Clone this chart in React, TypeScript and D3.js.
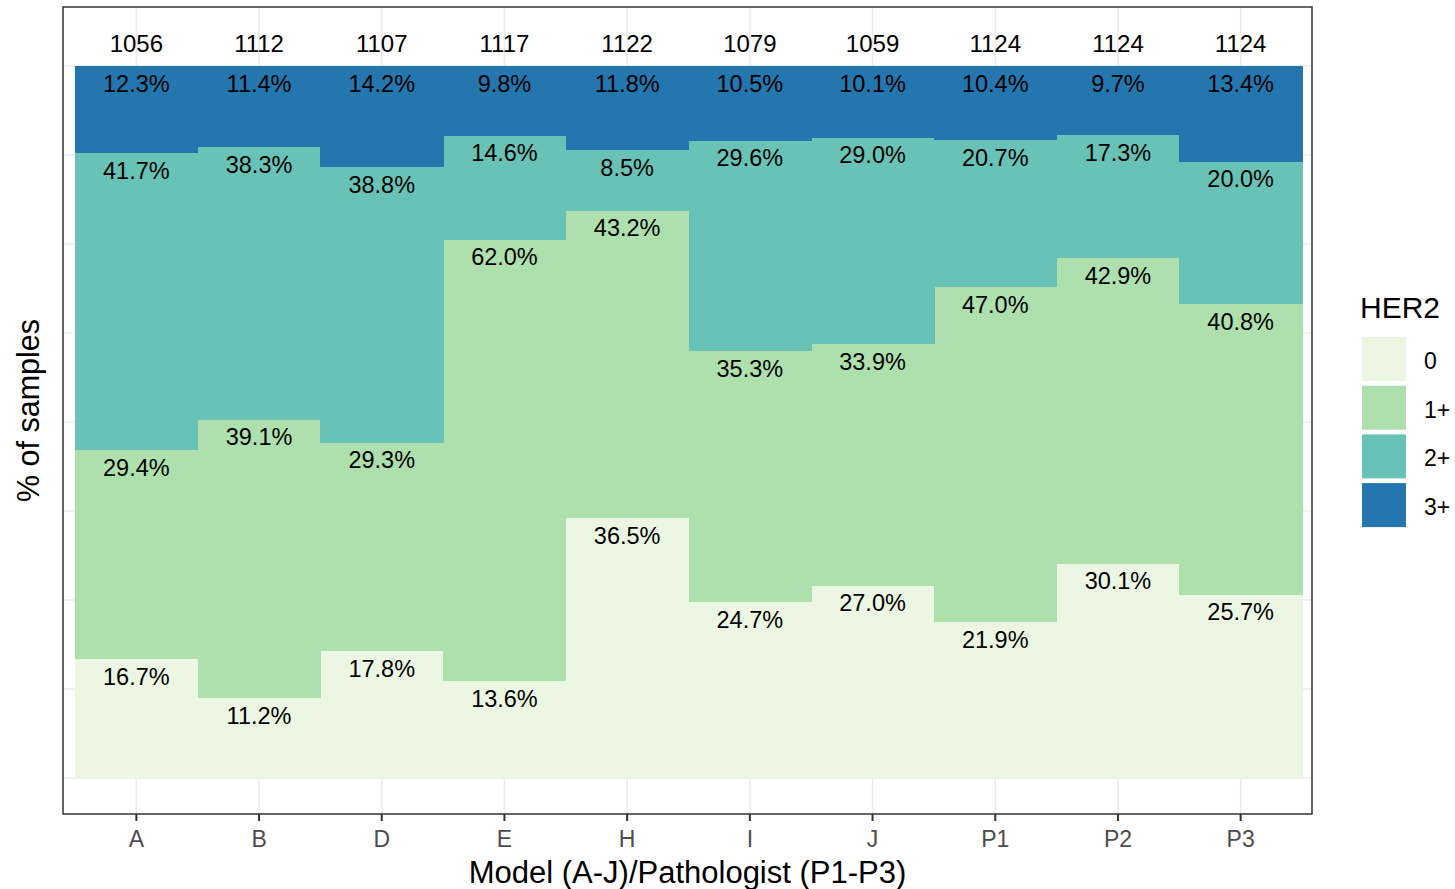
import React from "react";
import * as d3 from "d3";

const categories = ["A", "B", "D", "E", "H", "I", "J", "P1", "P2", "P3"];
const levels = ["0", "1+", "2+", "3+"];
const pct0 = [16.7, 11.2, 17.8, 13.6, 36.5, 24.7, 27.0, 21.9, 30.1, 25.7];
const pct1 = [29.4, 39.1, 29.3, 62.0, 43.2, 35.3, 33.9, 47.0, 42.9, 40.8];
const pct2 = [41.7, 38.3, 38.8, 14.6, 8.5, 29.6, 29.0, 20.7, 17.3, 20.0];
const pct3 = [12.3, 11.4, 14.2, 9.8, 11.8, 10.5, 10.1, 10.4, 9.7, 13.4];
const counts = [1056, 1112, 1107, 1117, 1122, 1079, 1059, 1124, 1124, 1124];
const colors = ["#ecf7e3", "#aee0ae", "#68c3b6", "#2476ae"];
const gridBreaks = [0, 0.125, 0.25, 0.375, 0.5, 0.625, 0.75, 0.875, 1];

const FONT = "'Liberation Sans', Arial, Helvetica, sans-serif";

export default function App() {
  const W = 1455, H = 889;
  const pL = 63, pR = 1312, pT = 7, pB = 814;
  const x = d3.scaleBand<string>().domain(categories).range([75, 1302]).padding(0);
  const y = d3.scaleLinear().domain([0, 1]).range([778, 66]);
  const series = [pct0, pct1, pct2, pct3];
  const rows = categories.map((c, i) => {
    const r: any = { cat: c };
    levels.forEach((l, k) => (r[l] = series[k][i] / 100));
    return r;
  });
  rows.forEach((r) => {
    const s = levels.reduce((a, l) => a + r[l], 0);
    levels.forEach((l) => (r[l] = r[l] / s));
  });
  const stack = d3.stack<any>().keys(levels);
  const stacked = stack(rows);
  const yTop = 1.031;

  return (
    <svg width={W} height={H} style={{ position: "absolute", left: 0, top: 0 }} fontFamily={FONT}>
      <rect x={0} y={0} width={W} height={H} fill="#fff" />
      {gridBreaks.map((g) => (
        <line key={"h" + g} x1={pL} x2={pR} y1={y(g)} y2={y(g)} stroke="#ebebeb" strokeWidth={1.5} />
      ))}
      {categories.map((c) => (
        <line key={"v" + c} x1={x(c)! + x.bandwidth() / 2} x2={x(c)! + x.bandwidth() / 2} y1={pT} y2={pB} stroke="#ebebeb" strokeWidth={1.5} />
      ))}
      {stacked.map((s, k) => (
        <g key={s.key} shapeRendering="crispEdges">
          {s.map((d, i) => (
            <rect key={i} x={x(categories[i])!} width={x.bandwidth() + 0.6} y={y(d[1])} height={y(d[0]) - y(d[1])} fill={colors[k]} />
          ))}
        </g>
      ))}
      {stacked.map((s, k) => (
        <g key={"l" + s.key}>
          {s.map((d, i) => (
            <text key={i} x={x(categories[i])! + x.bandwidth() / 2} y={y(d[1]) + 25.5} textAnchor="middle" fontSize={23.5} fill="#000">
              {series[k][i].toFixed(1) + "%"}
            </text>
          ))}
        </g>
      ))}
      {categories.map((c, i) => (
        <text key={"c" + c} x={x(c)! + x.bandwidth() / 2} y={y(yTop) + 8.5} textAnchor="middle" fontSize={24} fill="#000">
          {counts[i]}
        </text>
      ))}
      <rect x={pL} y={pT} width={pR - pL} height={pB - pT} fill="none" stroke="#333" strokeWidth={1.5} />
      {categories.map((c) => (
        <g key={"t" + c} transform={`translate(${x(c)! + x.bandwidth() / 2},${pB})`}>
          <line y1={0} y2={7} stroke="#333" strokeWidth={2} />
          <text y={33} textAnchor="middle" fontSize={23} fill="#4d4d4d">{c}</text>
        </g>
      ))}
      <text x={(pL + pR) / 2} y={883} textAnchor="middle" fontSize={31} fill="#000">Model (A-J)/Pathologist (P1-P3)</text>
      <text transform={`translate(39,${(pT + pB) / 2}) rotate(-90)`} textAnchor="middle" fontSize={30.5} fill="#000">% of samples</text>
      <text x={1360} y={318} fontSize={30} fill="#000">HER2</text>
      {levels.map((l, k) => (
        <g key={"lg" + l} transform={`translate(1362,${337 + k * 48.7})`}>
          <rect width={44} height={44} fill={colors[k]} />
          <text x={62} y={32} fontSize={23} fill="#000" textAnchor="start">{l}</text>
        </g>
      ))}
    </svg>
  );
}
